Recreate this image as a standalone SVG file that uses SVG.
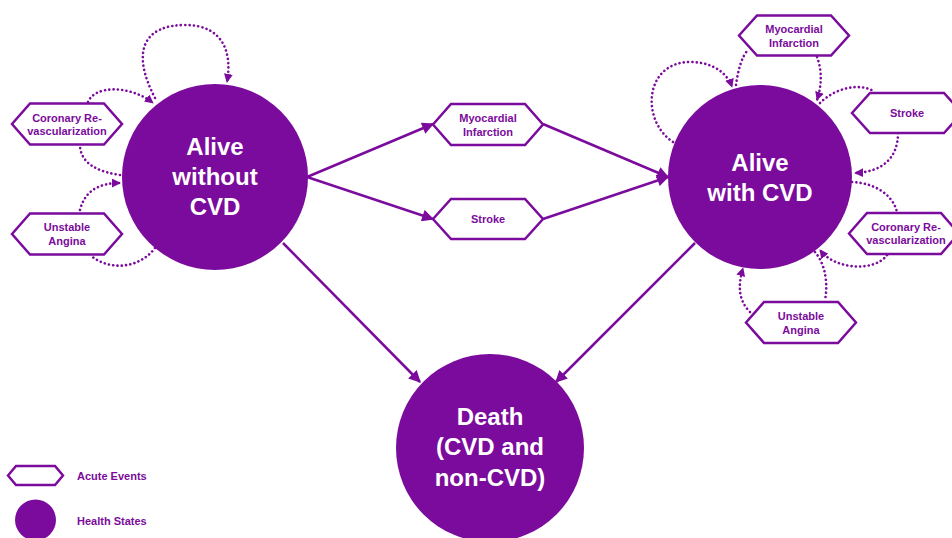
<svg xmlns="http://www.w3.org/2000/svg" width="952" height="538" viewBox="0 0 952 538">
<style>
.state{fill:#7b0b9c}
.hex{fill:#fff;stroke:#7b0b9c;stroke-width:2.5;stroke-linejoin:miter}
.st{font-family:"Liberation Sans",Arial,sans-serif;font-weight:bold;font-size:24px;fill:#fff;text-anchor:middle}
.ht{font-family:"Liberation Sans",Arial,sans-serif;font-weight:bold;font-size:11px;fill:#7b0b9c;text-anchor:middle}
.lt{font-family:"Liberation Sans",Arial,sans-serif;font-weight:bold;font-size:11px;fill:#7b0b9c}
.solid{fill:none;stroke:#7b0b9c;stroke-width:2.5}
.dot{fill:none;stroke:#7b0b9c;stroke-width:2.6;stroke-dasharray:0.1 4.2;stroke-linecap:round}
</style>
<defs>
<marker id="ah" viewBox="0 0 10 10" refX="9" refY="5" markerWidth="13" markerHeight="12" markerUnits="userSpaceOnUse" orient="auto">
<path d="M0,0 L10,5 L0,10 z" fill="#7b0b9c"/>
</marker>
<marker id="ad" viewBox="0 0 10 10" refX="9" refY="5" markerWidth="9" markerHeight="9" markerUnits="userSpaceOnUse" orient="auto">
<path d="M0,0 L10,5 L0,10 z" fill="#7b0b9c"/>
</marker>
</defs>

<g id="connectors">
<path class="solid" d="M307,177 L433,124" marker-end="url(#ah)"/>
<path class="solid" d="M307,177 L433,219" marker-end="url(#ah)"/>
<path class="solid" d="M543,124 L668,177" marker-end="url(#ah)"/>
<path class="solid" d="M543,219 L668,177" marker-end="url(#ah)"/>
<path class="solid" d="M283,243 L420,382" marker-end="url(#ah)"/>
<path class="solid" d="M695,243 L556,382" marker-end="url(#ah)"/>

<path class="dot" d="M155,98 C130,50 145,25 185,25 C225,25 232,55 227,82" marker-end="url(#ad)"/>
<path class="dot" d="M88,102 C95,85 130,85 153,103" marker-end="url(#ad)"/>
<path class="dot" d="M120,175 C100,172 82,165 80,147"/>
<path class="dot" d="M80,210 C85,190 100,183 120,183" marker-end="url(#ad)"/>
<path class="dot" d="M155,248 C140,268 110,272 90,255"/>

<path class="dot" d="M673,142 C640,120 645,62 690,62 C715,62 728,75 732,87" marker-end="url(#ad)"/>
<path class="dot" d="M736,85 C738,70 742,56 748,50"/>
<path class="dot" d="M817,57 C822,70 822,85 817,100" marker-end="url(#ad)"/>
<path class="dot" d="M820,103 C835,88 860,82 875,92"/>
<path class="dot" d="M898,133 C898,160 880,172 855,173" marker-end="url(#ad)"/>
<path class="dot" d="M852,182 C875,183 893,195 897,212"/>
<path class="dot" d="M887,255 C875,272 835,270 820,250" marker-end="url(#ad)"/>
<path class="dot" d="M750,312 C738,300 738,285 743,268" marker-end="url(#ad)"/>
<path class="dot" d="M815,252 C826,265 828,285 825,300"/>
</g>

<g id="alive-without-cvd">
<circle class="state" cx="215" cy="177" r="93"/>
<text class="st" x="215" y="155">Alive</text>
<text class="st" x="215" y="185">without</text>
<text class="st" x="215" y="215">CVD</text>
</g>
<g id="alive-with-cvd">
<circle class="state" cx="760" cy="177" r="92"/>
<text class="st" x="760" y="171">Alive</text>
<text class="st" x="760" y="201">with CVD</text>
</g>
<g id="death">
<circle class="state" cx="490" cy="448" r="94"/>
<text class="st" x="490" y="425">Death</text>
<text class="st" x="490" y="455">(CVD and</text>
<text class="st" x="490" y="486">non-CVD)</text>
</g>

<g id="left-coronary">
<polygon class="hex" points="12,124 30,103.5 104,103.5 122,124 104,144.5 30,144.5"/>
<text class="ht" x="67" y="122">Coronary Re-</text>
<text class="ht" x="67" y="135">vascularization</text>
</g>
<g id="left-angina">
<polygon class="hex" points="12,234 30,213.5 104,213.5 122,234 104,254.5 30,254.5"/>
<text class="ht" x="67" y="231">Unstable</text>
<text class="ht" x="67" y="245">Angina</text>
</g>
<g id="mid-mi">
<polygon class="hex" points="433,124.5 451,104 525,104 543,124.5 525,145 451,145"/>
<text class="ht" x="488" y="122">Myocardial</text>
<text class="ht" x="488" y="136">Infarction</text>
</g>
<g id="mid-stroke">
<polygon class="hex" points="433,219 451,199 525,199 543,219 525,239 451,239"/>
<text class="ht" x="488" y="223">Stroke</text>
</g>
<g id="right-mi">
<polygon class="hex" points="739,35.5 757,15.5 831,15.5 849,35.5 831,55.5 757,55.5"/>
<text class="ht" x="794" y="33">Myocardial</text>
<text class="ht" x="794" y="47">Infarction</text>
</g>
<g id="right-stroke">
<polygon class="hex" points="852,113 870,93 944,93 962,113 944,133 870,133"/>
<text class="ht" x="907" y="117">Stroke</text>
</g>
<g id="right-coronary">
<polygon class="hex" points="849,233.5 867,213 941,213 959,233.5 941,254 867,254"/>
<text class="ht" x="906" y="231">Coronary Re-</text>
<text class="ht" x="906" y="244">vascularization</text>
</g>
<g id="right-angina">
<polygon class="hex" points="746,322.5 764,302 838,302 856,322.5 838,343 764,343"/>
<text class="ht" x="801" y="320">Unstable</text>
<text class="ht" x="801" y="334">Angina</text>
</g>

<g id="legend">
<polygon class="hex" points="8,475.5 16,466 55,466 63,475.5 55,485 16,485"/>
<text class="lt" x="77" y="480">Acute Events</text>
<circle class="state" cx="35.5" cy="520" r="20.5"/>
<text class="lt" x="77" y="525">Health States</text>
</g>
</svg>
